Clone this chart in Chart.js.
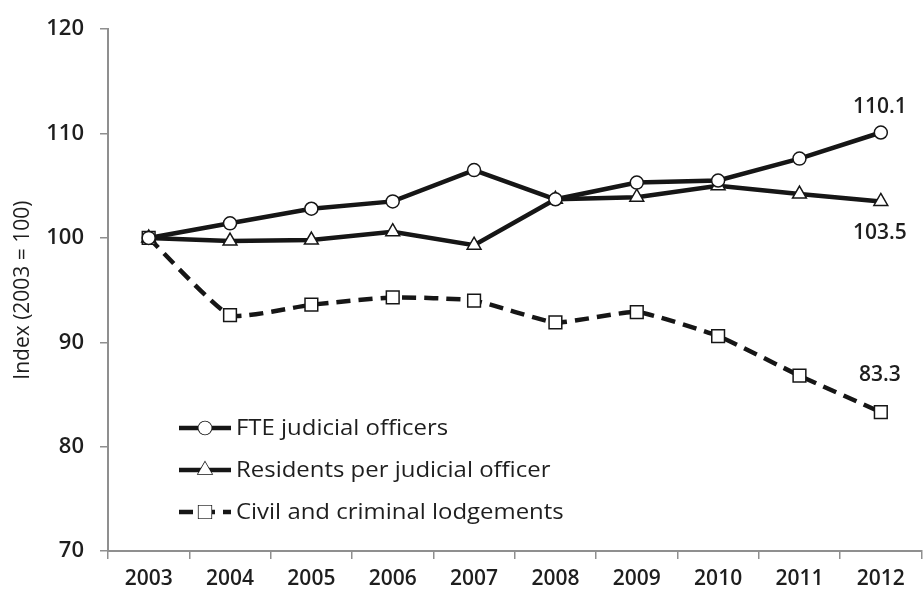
<!DOCTYPE html>
<html>
<head>
<meta charset="utf-8">
<script src="https://cdn.jsdelivr.net/npm/chart.js@4.4.1/dist/chart.umd.min.js"></script>
<style>
    html, body { margin: 0; padding: 0; background: #fff; overflow: hidden; }
    .wrap { width: 932px; height: 595px; }
</style>
</head>
<body>
<div class="wrap"><canvas id="myChart" width="932" height="595"></canvas></div>
<script>
// data
const years = ["2003", "2004", "2005", "2006", "2007", "2008", "2009", "2010", "2011", "2012"];
const fteOfficers = [100, 101.4, 102.8, 103.5, 106.5, 103.7, 105.3, 105.5, 107.6, 110.1];
const residentsPerOfficer = [100, 99.7, 99.8, 100.6, 99.3, 103.7, 103.9, 105.0, 104.2, 103.5];
const lodgements = [100, 92.6, 93.6, 94.3, 94.0, 91.9, 92.9, 90.6, 86.8, 83.3];
const yTicks = [70, 80, 90, 100, 110, 120];
const endLabels = ["110.1", "103.5", "83.3"];

const lineColor = "#161616";
const axisColor = "#8f8f8f";
const textColor = "#1e1e1e";
const fontFamily = "'Open Sans', 'DejaVu Sans', sans-serif";

// labels next to the last point of each series
const endLabelPlugin = {
    id: "endLabels",
    afterDatasetsDraw(chart) {
        const ctx = chart.ctx;
        const offsets = [-26, 32, -37];
        ctx.save();
        ctx.font = "600 21px " + fontFamily;
        ctx.fillStyle = textColor;
        ctx.textAlign = "center";
        ctx.textBaseline = "middle";
        chart.data.datasets.forEach((ds, i) => {
            const meta = chart.getDatasetMeta(i);
            const pt = meta.data[meta.data.length - 1];
            ctx.fillText(endLabels[i], pt.x - 1, pt.y + offsets[i]);
        });
        ctx.restore();
    },
};

// legend drawn inside the plot area, bottom left
const insideLegendPlugin = {
    id: "insideLegend",
    afterDraw(chart) {
        const ctx = chart.ctx;
        const x0 = chart.chartArea.left + 71;
        const rows = [428, 470, 512];
        ctx.save();
        ctx.font = "21px " + fontFamily;
        ctx.textBaseline = "middle";
        chart.data.datasets.forEach((ds, i) => {
            const y = rows[i];
            ctx.strokeStyle = lineColor;
            ctx.lineWidth = 4.5;
            ctx.setLineDash(ds.borderDash || []);
            ctx.beginPath();
            ctx.moveTo(x0, y);
            ctx.lineTo(x0 + 52, y);
            ctx.stroke();
            ctx.setLineDash([]);
            ctx.fillStyle = "#fff";
            ctx.lineWidth = 1.5;
            Chart.helpers.drawPoint(ctx, {
                pointStyle: ds.pointStyle,
                radius: ds.pointRadius,
                borderWidth: 1.5,
            }, x0 + 26, y);
            ctx.fill();
            // the reference text is a little wider than Open Sans
            ctx.save();
            ctx.translate(x0 + 57, y + 1);
            ctx.scale(1.14, 1);
            ctx.fillStyle = textColor;
            ctx.fillText(ds.label, 0, 0);
            ctx.restore();
        });
        ctx.restore();
    },
};

const ctx = document.getElementById("myChart").getContext("2d");
const myChart = new Chart(ctx, {
    type: "line",
    data: {
        labels: years,
        datasets: [
            {
                label: "FTE judicial officers",
                data: fteOfficers,
                borderColor: lineColor,
                borderWidth: 4.5,
                pointStyle: "circle",
                pointRadius: 6.5,
                pointBackgroundColor: "#fff",
                pointBorderColor: lineColor,
                pointBorderWidth: 1.5,
                tension: 0,
            },
            {
                label: "Residents per judicial officer",
                data: residentsPerOfficer,
                borderColor: lineColor,
                borderWidth: 4.5,
                pointStyle: "triangle",
                pointRadius: 8,
                pointBackgroundColor: "#fff",
                pointBorderColor: lineColor,
                pointBorderWidth: 1.5,
                tension: 0,
            },
            {
                label: "Civil and criminal lodgements",
                data: lodgements,
                borderColor: lineColor,
                borderWidth: 4.5,
                borderDash: [14, 8],
                pointStyle: "rect",
                pointRadius: 9,
                pointBackgroundColor: "#fff",
                pointBorderColor: lineColor,
                pointBorderWidth: 1.5,
                tension: 0.15,
            },
        ],
    },
    options: {
        responsive: false,
        animation: false,
        layout: { padding: { left: 0, right: 1, top: 14, bottom: 0 } },
        plugins: {
            legend: { display: false },
            tooltip: { enabled: false },
        },
        scales: {
            x: {
                offset: true,
                grid: {
                    offset: true,
                    drawOnChartArea: false,
                    color: axisColor,
                    lineWidth: 1.5,
                    tickLength: 8,
                },
                border: { color: axisColor, width: 2 },
                ticks: {
                    color: textColor,
                    font: { family: fontFamily, size: 21, weight: "600" },
                    padding: 7,
                    maxRotation: 0,
                },
                afterFit(scale) { scale.height = 44; },
            },
            y: {
                min: 70,
                max: 120,
                afterBuildTicks(scale) {
                    scale.ticks = yTicks.map((v) => ({ value: v }));
                },
                grid: {
                    drawOnChartArea: false,
                    color: axisColor,
                    lineWidth: 1.5,
                    tickLength: 8,
                },
                border: { color: axisColor, width: 2 },
                ticks: {
                    color: textColor,
                    font: { family: fontFamily, size: 22, weight: "600" },
                    padding: 16,
                },
                title: {
                    display: true,
                    text: "Index (2003 = 100)",
                    color: textColor,
                    font: { family: fontFamily, size: 21 },
                    padding: { top: 10, bottom: 0 },
                },
                afterFit(scale) { scale.width = 108; },
            },
        },
    },
    plugins: [endLabelPlugin, insideLegendPlugin],
});
</script>
</body>
</html>
